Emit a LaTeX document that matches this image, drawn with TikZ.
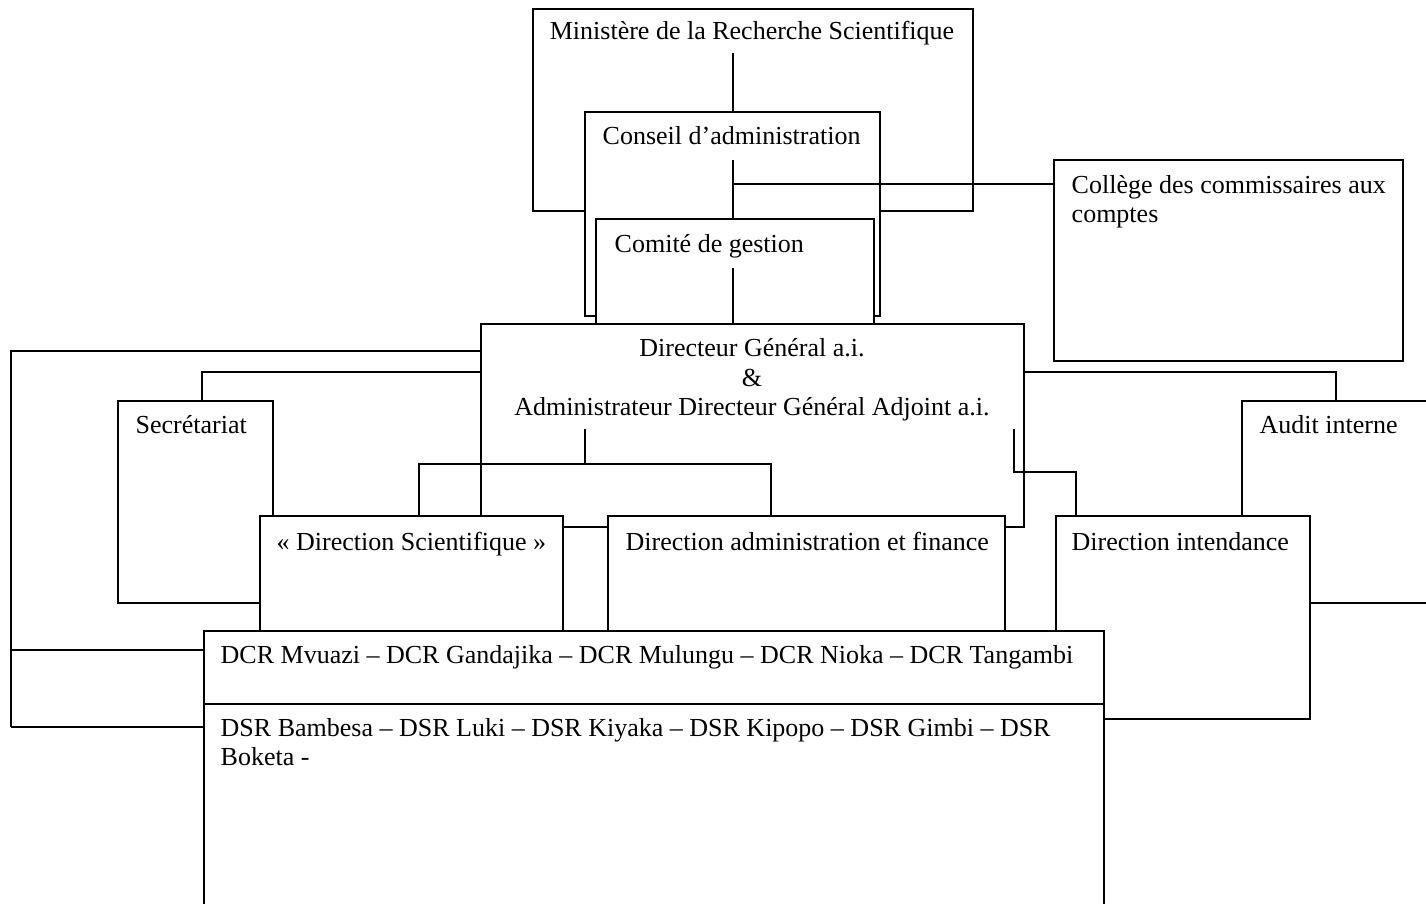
\documentclass[tikz,border=0pt]{standalone}
\usepackage{fontspec}
\setmainfont{Liberation Serif}
\usetikzlibrary{fit}
\begin{document}
\begin{tikzpicture}[x=0.5pt,y=-0.5pt,line width=0.7pt,
  orgbox/.style={draw,fill=white,inner sep=0pt,outer sep=0pt},
  lbl/.style={inner sep=0pt,anchor=base west,align=left,
    font=\fontsize{13}{14.5}\selectfont},
  clbl/.style={inner sep=0pt,anchor=base,align=center,
    font=\fontsize{13}{14.5}\selectfont},
  link/.style={draw,line width=0.7pt}]
\useasboundingbox (0,0) rectangle (1426,904);
\fill[white] (0,0) rectangle (1426,904);
\clip (0,0) rectangle (1426,904);

% Ministry, board and management committee
\node[orgbox,fit={(533,9) (973,211)}] (ministere) {};
\node[clbl] (ministere-t) at (752,40) {Ministère de la Recherche Scientifique};
\coordinate (m-stem) at (733,53);
\node[orgbox,fit={(585,112) (880,316)}] (conseil) {};
\node[lbl] (conseil-t) at (602,145) {Conseil d’administration};
\draw[link] (m-stem) -- (m-stem |- conseil.north);
\coordinate (c-stem) at (733,160);
\coordinate (c-branch) at (733,184);
\node[orgbox,fit={(596,219) (874,330)}] (comite) {};
\node[lbl] (comite-t) at (614,252) {Comité de gestion};
\draw[link] (c-stem) -- (c-stem |- comite.north);
\coordinate (g-stem) at (733,268);

% Auditors (multi-line labels sit on the baseline of their last line)
\node[orgbox,fit={(1054,160) (1403,361)}] (college) {};
\node[lbl] (college-t) at (1071,222) {Collège des commissaires aux\\comptes};
\draw[link] (c-branch) -- (c-branch -| college.west);

% General management
\node[orgbox,fit={(481,324) (1024,527)}] (dg) {};
\node[clbl] (dg-t) at (752,415) {Directeur Général a.i.\\\&\\Administrateur Directeur Général Adjoint a.i.};
\draw[link] (g-stem) -- (g-stem |- dg.north);

% Secretariat and internal audit
\node[orgbox,fit={(118,401) (273,603)}] (secretariat) {};
\node[lbl] (secretariat-t) at (135,433) {Secrétariat};
\node[orgbox,fit={(1242,401) (1450,603)}] (audit) {};
\node[lbl] (audit-t) at (1259,433) {Audit interne};

\coordinate (sec-tap) at (481,372);
\coordinate (sec-top) at (202,401);
\draw[link] (sec-tap) -| (sec-top);
\coordinate (aud-tap) at (1024,372);
\coordinate (aud-top) at (1336,401);
\draw[link] (aud-tap) -| (aud-top);

\coordinate (rail-top) at (11,351);
\coordinate (rail-mid) at (11,650);
\coordinate (rail-bot) at (11,727);
\draw[link] (dg.west |- rail-top) -- (rail-top) -- (rail-bot);

\coordinate (dg-stem) at (585,429);
\coordinate (bar-mid) at (585,464);
\coordinate (bar-l) at (419,464);
\coordinate (bar-r) at (771,464);
\draw[link] (dg-stem) -- (bar-mid);
\coordinate (di-src) at (1014,429);
\coordinate (di-elbow) at (1076,472);

% Directorates
\node[orgbox,fit={(260,516) (563,640)}] (ds) {};
\node[lbl] (ds-t) at (276,550) {« Direction Scientifique »};
\node[orgbox,fit={(608,516) (1005,640)}] (da) {};
\node[lbl] (da-t) at (625,550) {Direction administration et finance};
\node[orgbox,fit={(1056,516) (1310,719)}] (di) {};
\node[lbl] (di-t) at (1071,550) {Direction intendance};
\draw[link] (bar-l |- ds.north) -- (bar-l) -- (bar-r) -- (bar-r |- da.north);
\draw[link] (di-src) |- (di-elbow) -- (di-elbow |- di.north);

% Research centres and stations
\node[orgbox,fit={(204,631) (1104,704)}] (dcr) {};
\node[lbl] (dcr-t) at (220,663) {DCR Mvuazi – DCR Gandajika – DCR Mulungu – DCR Nioka – DCR Tangambi};
\node[orgbox,fit={(204,704) (1104,930)}] (dsr) {};
\node[lbl] (dsr-t) at (220,765) {DSR Bambesa – DSR Luki – DSR Kiyaka – DSR Kipopo – DSR Gimbi – DSR\\Boketa -};
\draw[link] (rail-mid) -- (rail-mid -| dcr.west);
\draw[link] (rail-bot) -- (rail-bot -| dsr.west);
\end{tikzpicture}
\end{document}
